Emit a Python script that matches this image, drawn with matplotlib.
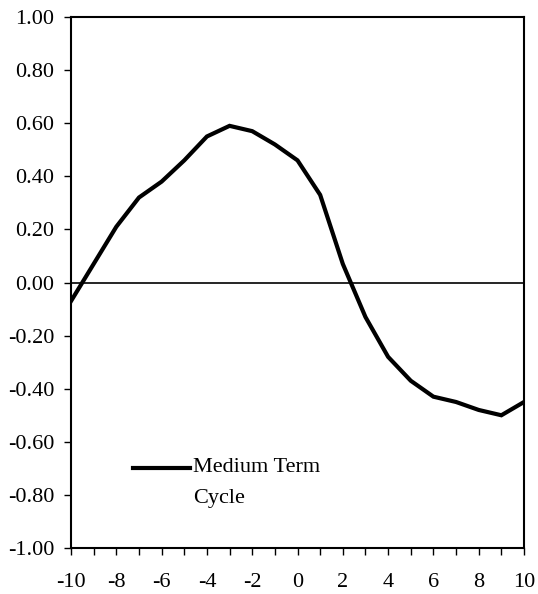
import matplotlib
matplotlib.use("Agg")
import matplotlib.pyplot as plt
import numpy as np

# lag / lead and correlation of the medium term cycle
lags = list(range(-10, 11))
medium_term = [-0.07, 0.07, 0.21, 0.32, 0.38, 0.46, 0.55, 0.59, 0.57, 0.52, 0.46,
               0.33, 0.07, -0.13, -0.28, -0.37, -0.43, -0.45, -0.48, -0.50, -0.45]
x_ticks = list(range(-10, 11, 2))
y_ticks = [-1.0, -0.8, -0.6, -0.4, -0.2, 0.0, 0.2, 0.4, 0.6, 0.8, 1.0]

plt.rcParams['font.family'] = ['Liberation Serif', 'DejaVu Serif']

fig = plt.figure(figsize=(5.38, 5.94), dpi=100)
ax = fig.add_axes([0.132, 0.0774, 0.842, 0.894])

ax.plot(lags, medium_term, color='black', lw=3, solid_joinstyle='miter')
ax.axhline(0, color='black', lw=1.2)

ax.set_xlim(-10, 10)
ax.set_ylim(-1, 1)
ax.set_xticks(range(-10, 11))
ax.set_xticklabels([str(v) if v in x_ticks else '' for v in range(-10, 11)])
ax.set_yticks(y_ticks)
ax.set_yticklabels([f'{v:.2f}' for v in y_ticks])
ax.tick_params(direction='out', length=5, width=1, labelsize=16)
ax.tick_params(axis='y', pad=7)
ax.tick_params(axis='x', pad=13)
for s in ax.spines.values():
    s.set_linewidth(1.5)

# legend drawn by hand so the key sits by the first line of text
ax.plot([0.137, 0.263], [0.151, 0.151], color='black', lw=3, transform=ax.transAxes)
ax.text(0.269, 0.151, 'Medium Term', transform=ax.transAxes,
        fontsize=16, va='center', ha='left')
ax.text(0.269, 0.094, 'Cycle', transform=ax.transAxes,
        fontsize=16, va='center', ha='left')

fig.savefig('out.png', dpi=100)
